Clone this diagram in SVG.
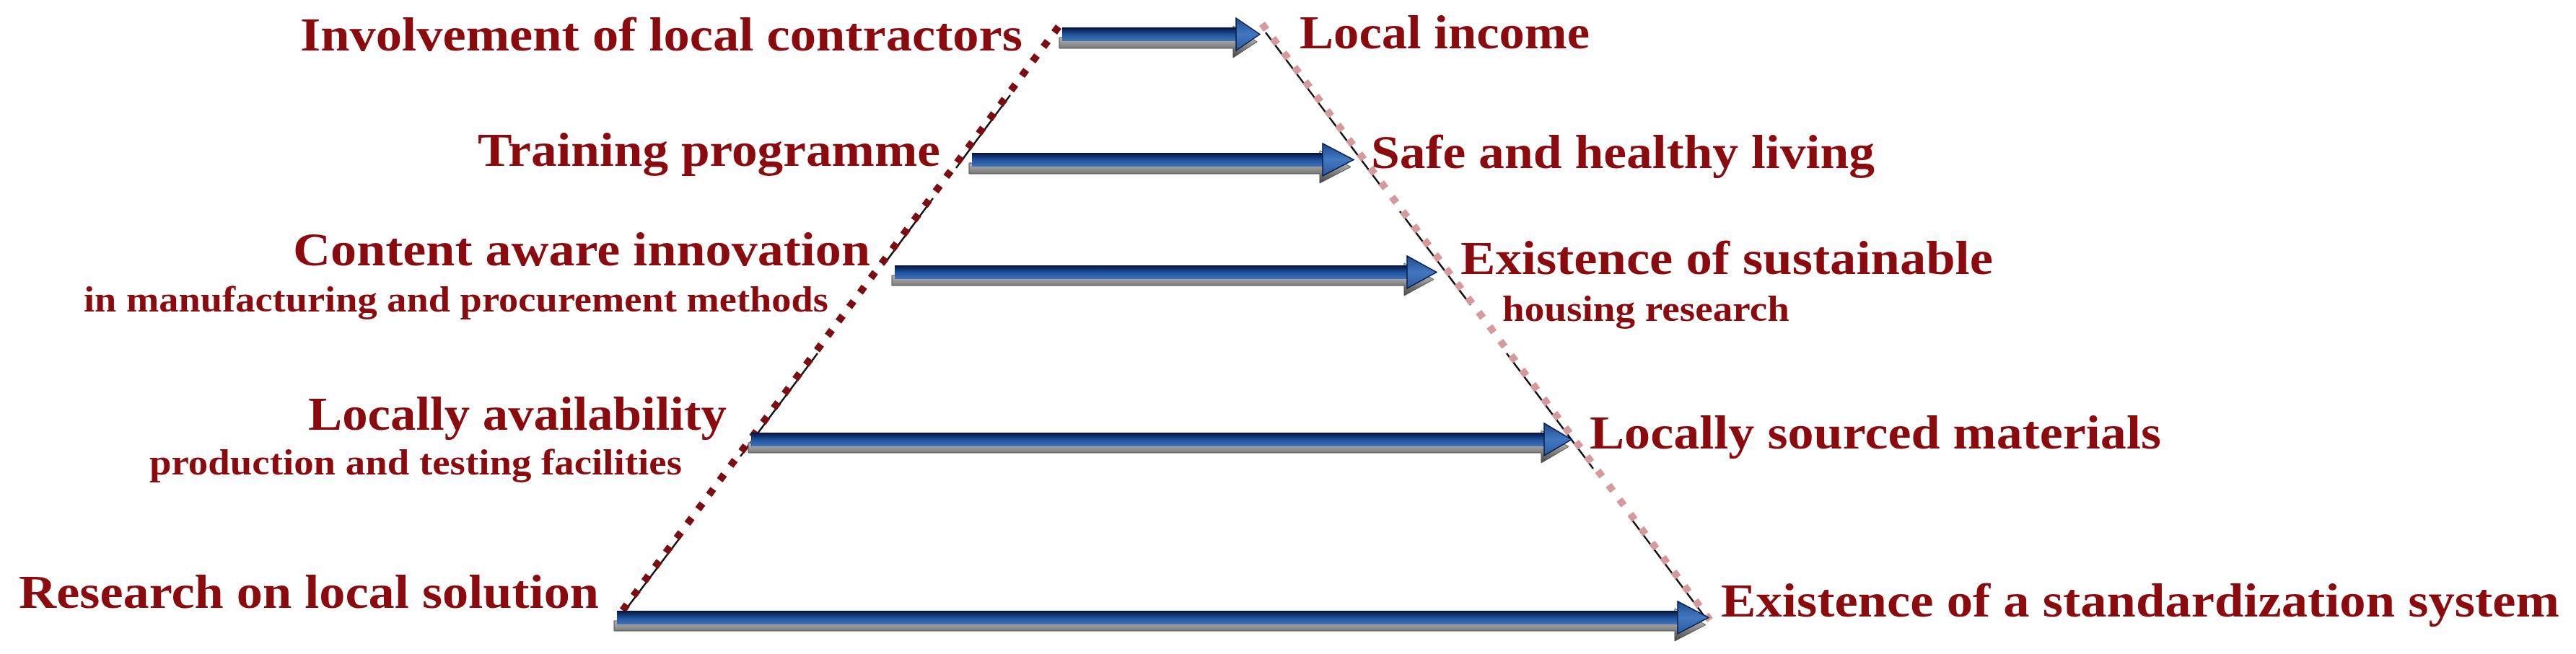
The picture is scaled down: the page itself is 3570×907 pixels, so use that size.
<svg xmlns="http://www.w3.org/2000/svg" width="3570" height="907" viewBox="0 0 3570 907">
<defs>
<linearGradient id="gShaft" x1="0" y1="0" x2="0" y2="1">
<stop offset="0" stop-color="#04112e"/>
<stop offset="0.2" stop-color="#0d2b66"/>
<stop offset="0.55" stop-color="#22569f"/>
<stop offset="1" stop-color="#3f72b8"/>
</linearGradient>
<linearGradient id="gHead" x1="0" y1="0" x2="0" y2="1">
<stop offset="0" stop-color="#1d4a8e"/>
<stop offset="0.5" stop-color="#4278c0"/>
<stop offset="1" stop-color="#2a5aa0"/>
</linearGradient>
<linearGradient id="gShadow" x1="0" y1="0" x2="0" y2="1">
<stop offset="0" stop-color="#dcdcdc"/>
<stop offset="0.45" stop-color="#a8a8a8"/>
<stop offset="1" stop-color="#444444"/>
</linearGradient>
</defs>
<style>
.big{font-family:"Liberation Serif","Times New Roman",serif;font-weight:bold;font-size:65px;fill:#8a0a0e}
.small{font-family:"Liberation Serif","Times New Roman",serif;font-weight:bold;font-size:50px;fill:#8a0a0e}
.dotL{fill:none;stroke:#7a0c12;stroke-width:10;stroke-dasharray:10 15}
.dotR{fill:none;stroke:#d59a9c;stroke-width:10;stroke-dasharray:10 15}
.edge{fill:none;stroke:#111;stroke-width:2.5}
.sh{fill:url(#gShadow);stroke:#555;stroke-width:1}
.shaft{fill:url(#gShaft)}
.head{fill:url(#gHead);stroke:#0a1f4c;stroke-width:1.5}
</style>
<rect width="3570" height="907" fill="#ffffff"/>

<g id="trapezoid">
<g id="edges-black">
<line class="edge" x1="1400" y1="132" x2="1325" y2="233"/>
<line class="edge" x1="1293" y1="275" x2="1224" y2="368"/>
<line class="edge" x1="1133" y1="490" x2="1026" y2="633"/>
<line class="edge" x1="943" y1="745" x2="860" y2="855"/>
<line class="edge" x1="1754" y1="45" x2="1913" y2="257"/>
<line class="edge" x1="1940" y1="293" x2="2038" y2="423"/>
<line class="edge" x1="2088" y1="490" x2="2208" y2="650"/>
<line class="edge" x1="2261" y1="720" x2="2363" y2="856"/>
</g>
<line id="left-dotted" class="dotL" x1="1467" y1="37" x2="855" y2="857"/>
<line id="right-dotted" class="dotR" x1="1749" y1="33" x2="2370" y2="860"/>
</g>

<g id="connectors">
<g id="arrow1">
<path class="sh" d="M1468,52 H1709 V36 L1742,58 L1709,80 V67 H1468 Z"/>
<rect class="shaft" x="1472" y="38" width="243" height="19"/>
<path class="head" d="M1713,25 L1746,47.5 L1713,70 Z"/>
</g>
<g id="arrow2">
<path class="sh" d="M1343,226 H1829 V209 L1872,231.5 L1829,254 V241 H1343 Z"/>
<rect class="shaft" x="1347" y="212" width="488" height="19"/>
<path class="head" d="M1833,199 L1876,221.5 L1833,244 Z"/>
</g>
<g id="arrow3">
<path class="sh" d="M1236,382 H1946 V365 L1987,387.5 L1946,410 V396 H1236 Z"/>
<rect class="shaft" x="1240" y="368" width="712" height="19"/>
<path class="head" d="M1950,355 L1991,377.5 L1950,400 Z"/>
</g>
<g id="arrow4">
<path class="sh" d="M1037,614 H2136 V597 L2174,619.5 L2136,642 V628 H1037 Z"/>
<rect class="shaft" x="1041" y="600" width="1101" height="19"/>
<path class="head" d="M2140,587 L2178,609.5 L2140,632 Z"/>
</g>
<g id="arrow5">
<path class="sh" d="M851,861 H2321 V844 L2364,866.5 L2321,889 V875 H851 Z"/>
<rect class="shaft" x="855" y="847" width="1472" height="19"/>
<path class="head" d="M2325,834 L2368,856.5 L2325,879 Z"/>
</g>
</g>

<g id="node-involvement"><text class="big" x="416" y="70" textLength="1001" lengthAdjust="spacingAndGlyphs">Involvement of local contractors</text></g>
<g id="node-local-income"><text class="big" x="1801" y="67" textLength="402" lengthAdjust="spacingAndGlyphs">Local income</text></g>
<g id="node-training"><text class="big" x="662" y="230" textLength="641" lengthAdjust="spacingAndGlyphs">Training programme</text></g>
<g id="node-safe"><text class="big" x="1900" y="233" textLength="698" lengthAdjust="spacingAndGlyphs">Safe and healthy living</text></g>
<g id="node-content">
<text class="big" x="406" y="368" textLength="800" lengthAdjust="spacingAndGlyphs">Content aware innovation</text>
<text class="small" x="116" y="432" textLength="1032" lengthAdjust="spacingAndGlyphs">in manufacturing and procurement methods</text>
</g>
<g id="node-sustainable">
<text class="big" x="2024" y="380" textLength="738" lengthAdjust="spacingAndGlyphs">Existence of sustainable</text>
<text class="small" x="2082" y="445" textLength="398" lengthAdjust="spacingAndGlyphs">housing research</text>
</g>
<g id="node-availability">
<text class="big" x="427" y="596" textLength="580" lengthAdjust="spacingAndGlyphs">Locally availability</text>
<text class="small" x="207" y="658" textLength="738" lengthAdjust="spacingAndGlyphs">production and testing facilities</text>
</g>
<g id="node-materials"><text class="big" x="2203" y="622" textLength="792" lengthAdjust="spacingAndGlyphs">Locally sourced materials</text></g>
<g id="node-research"><text class="big" x="26" y="843" textLength="804" lengthAdjust="spacingAndGlyphs">Research on local solution</text></g>
<g id="node-standardization"><text class="big" x="2385" y="855" textLength="1162" lengthAdjust="spacingAndGlyphs">Existence of a standardization system</text></g>
</svg>
